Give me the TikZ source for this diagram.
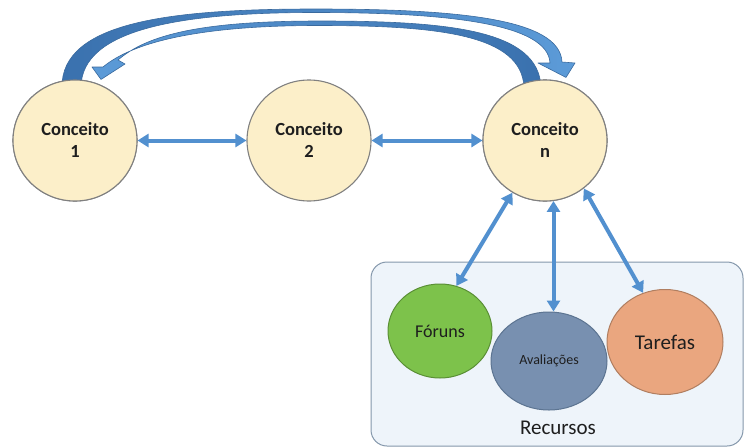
\documentclass[tikz,border=0pt]{standalone}
\usepackage{fontspec}
\setmainfont{Carlito}
\usetikzlibrary{shapes.geometric,arrows.meta,calc}

\definecolor{conceptfill}{HTML}{FCEFC9}
\definecolor{conceptdraw}{HTML}{808080}
\definecolor{linkblue}{HTML}{5290CF}
\definecolor{arcdark}{HTML}{3A71AE}
\definecolor{arclight}{HTML}{5C9BD8}
\definecolor{arcedge}{HTML}{3A6A9E}
\definecolor{boxfill}{HTML}{EEF4FA}
\definecolor{boxdraw}{HTML}{8497AB}
\definecolor{forumfill}{HTML}{7DC24B}
\definecolor{forumdraw}{HTML}{5A8F35}
\definecolor{evalfill}{HTML}{7890B0}
\definecolor{evaldraw}{HTML}{5C7491}
\definecolor{taskfill}{HTML}{EAA67F}
\definecolor{taskdraw}{HTML}{B07E60}
\definecolor{inkdark}{HTML}{1E1E1E}

\begin{document}
\begin{tikzpicture}[x=1pt,y=-1pt,
  concept/.style={ellipse, draw=conceptdraw, fill=conceptfill, line width=1.1pt,
    minimum width=124pt, minimum height=121pt, inner sep=0pt, align=center,
    font=\fontsize{18.5}{22}\selectfont\bfseries, text=inkdark},
  resource/.style={ellipse, line width=1pt, inner sep=0pt, text=inkdark},
  link/.style={draw=linkblue, line width=4pt,
    {Triangle[length=11pt,width=13pt]}-{Triangle[length=11pt,width=13pt]}},
  bigarrow/.style={draw=arcedge, line width=0.6pt, line join=round}]

\useasboundingbox (0,0) rectangle (744,447);

% resources panel
\node[draw=boxdraw, fill=boxfill, rounded corners=16pt, line width=1pt,
  minimum width=372pt, minimum height=184pt] (panel) at (557,354) {};
\node[font=\fontsize{21}{24}\selectfont, text=inkdark] (panellabel) at (558,428) {Recursos};

% concept nodes
\node[concept] (c1) at (75,140.5) {Conceito\\1};
\node[concept] (c2) at (309,140.5) {Conceito\\2};
\node[concept] (cn) at (545,140.5) {Conceito\\n};

% curved arrow: Conceito 1 -> Conceito n
\shadedraw[bigarrow, left color=arcdark, right color=arclight]
  ($(c1.north)+(-13,8)$) .. controls (61,22) and (170,9) .. (315,9)
  .. controls (455,9) and (560,18) .. (562,62)
  -- (575,63) -- ($(cn.north)+(21,-2)$) -- (538,63) -- (550,63)
  .. controls (548,24) and (450,12.5) .. (315,12.5)
  .. controls (185,12.5) and (81,28) .. ($(c1.north)+(6,8)$) -- cycle;

% curved arrow: Conceito n -> Conceito 1
\shadedraw[bigarrow, left color=arclight, right color=arcdark]
  ($(cn.north)+(-4,8)$) .. controls (539,30) and (450,21) .. (320,21)
  .. controls (200,21) and (147,35) .. (118,60)
  -- (125,64) -- ($(c1.north)+(26,0)$) -- (92,67) -- (103,67)
  .. controls (133,42) and (200,25.5) .. (318,25.5)
  .. controls (440,25.5) and (522,35) .. ($(cn.north)+(-21,8)$) -- cycle;

% concept nodes drawn again above the arrow tails
\node[concept] at (c1) {Conceito\\1};
\node[concept] at (cn) {Conceito\\n};

% resource nodes
\node[resource, fill=forumfill, draw=forumdraw, minimum width=104pt, minimum height=94pt,
  font=\fontsize{18}{20}\selectfont] (fo) at (440,331) {Fóruns};
\node[resource, fill=taskfill, draw=taskdraw, minimum width=116pt, minimum height=105pt,
  font=\fontsize{21}{24}\selectfont] (ta) at (665,342) {Tarefas};
\node[resource, fill=evalfill, draw=evaldraw, minimum width=116pt, minimum height=98pt,
  font=\fontsize{14}{16}\selectfont] (av) at (549,361) {\raisebox{-2pt}{Avaliações}};

% links
\draw[link] (c1) -- (c2);
\draw[link] (c2) -- (cn);
\draw[link] (cn.238) -- (fo.70);
\draw[link] (cn.278) -- (cn.278 |- av.north);
\draw[link] (cn.309) -- (ta.114);
\end{tikzpicture}
\end{document}
